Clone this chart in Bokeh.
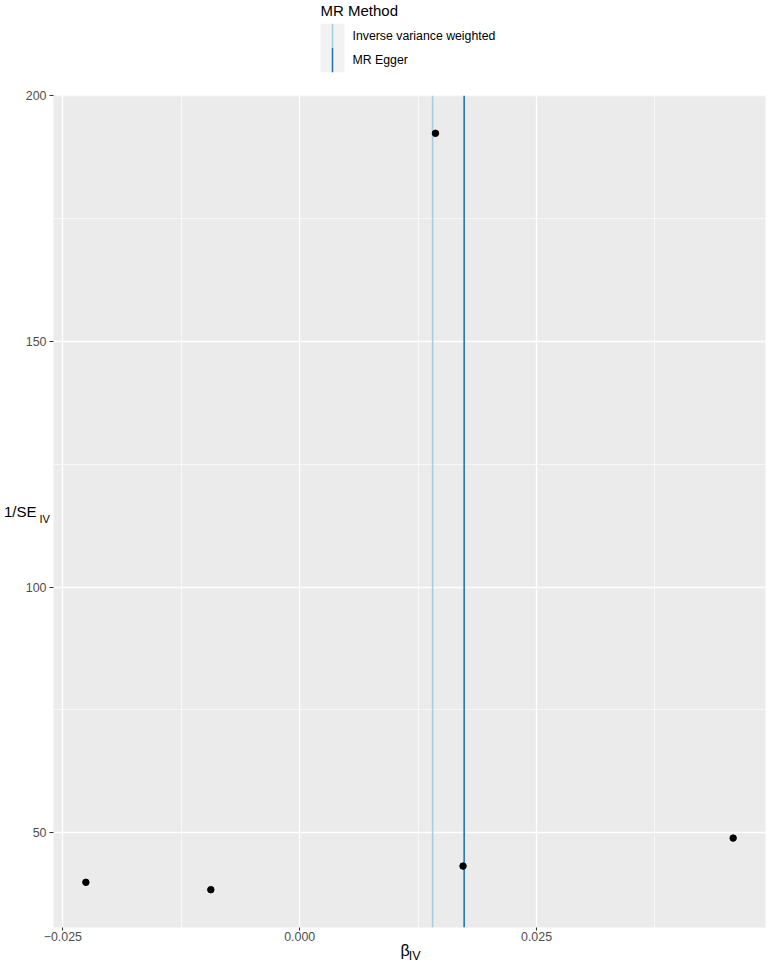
from bokeh.plotting import figure
from bokeh.layouts import column
from bokeh.models import Range1d, FixedTicker, ColumnDataSource, LinearAxis
from bokeh.core.properties import value
from bokeh.embed import file_html
from bokeh.resources import INLINE

# ---- data ----
beta_iv = [-0.02257, -0.00938, 0.01433, 0.01724, 0.04575]
inv_se_iv = [39.9, 38.4, 192.4, 43.2, 48.9]

methods = ["Inverse variance weighted", "MR Egger"]
method_estimates = [0.01403, 0.01736]
method_colors = ["#a6cee3", "#1f78b4"]

x_ticks = [-0.025, 0.0, 0.025]
x_tick_labels = ["\u22120.025", "0.000", "0.025"]
x_minor = [-0.0125, 0.0125, 0.0375]
y_ticks = [50, 100, 150, 200]
y_minor = [75, 125, 175]

FONT = "Liberation Sans"
NBSP = "\u00a0"

# ggplot-like 5% expansion
xmin, xmax = min(beta_iv), max(beta_iv)
ymin, ymax = min(inv_se_iv), max(inv_se_iv)
dx = (xmax - xmin) * 0.05
dy = (ymax - ymin) * 0.05
x_lo, x_hi = xmin - dx, xmax + dx
y_lo, y_hi = ymin - dy, ymax + dy

# ---- layout geometry (page pixels) ----
W = 768
BL, BR = 53, 3                 # frame x: 53 .. 765
BT, BB = 15, 37
LEG_H = 80
MAIN_H = 885                   # frame y: 95 .. 928

# ---- legend (data units == page pixels) ----
leg = figure(width=W, height=LEG_H, x_range=Range1d(BL, W - BR), y_range=Range1d(LEG_H, 0),
             x_axis_location=None, y_axis_location=None, toolbar_location=None,
             output_backend="svg", min_border_left=BL, min_border_right=BR,
             min_border_top=0, min_border_bottom=0)
leg.grid.visible = False
leg.outline_line_color = None
leg.background_fill_color = "white"
leg.border_fill_color = "white"

leg.text(x=[320], y=[10], text=["MR Method"], text_font=value(FONT), text_font_size="15px",
         text_color="black", text_align="left", text_baseline="middle")
key_x = 332
key_top = 23.3
key_h = 24.2
leg.rect(x=[key_x], y=[key_top + key_h], width=24, height=2 * key_h,
         fill_color="#F2F2F2", line_color=None)
for i, (m, c) in enumerate(zip(methods, method_colors)):
    y0 = key_top + i * key_h
    leg.segment(x0=[key_x], x1=[key_x], y0=[y0], y1=[y0 + key_h], line_color=c, line_width=1.6)
    leg.text(x=[352], y=[y0 + key_h / 2], text=[m], text_font=value(FONT), text_font_size="12.3px",
             text_color="black", text_align="left", text_baseline="middle")

# ---- main figure ----
p = figure(width=W, height=MAIN_H, x_range=Range1d(x_lo, x_hi), y_range=Range1d(y_lo, y_hi),
           toolbar_location=None, output_backend="svg",
           min_border_left=BL, min_border_right=BR, min_border_top=BT, min_border_bottom=BB)
p.background_fill_color = "#EBEBEB"
p.border_fill_color = "white"
p.outline_line_color = None

p.xaxis.ticker = FixedTicker(ticks=x_ticks, minor_ticks=x_minor)
p.yaxis.ticker = FixedTicker(ticks=y_ticks, minor_ticks=y_minor)
p.xaxis.major_label_overrides = {t: l for t, l in zip(x_ticks, x_tick_labels)}

for ax in (p.xaxis, p.yaxis):
    ax.axis_line_color = None
    ax.major_tick_line_color = "#333333"
    ax.major_tick_line_width = 1.1
    ax.major_tick_in = 0
    ax.minor_tick_line_color = None
    ax.major_label_text_font = FONT
    ax.major_label_text_font_size = "12.4px"
    ax.major_label_text_color = "#4D4D4D"
    ax.axis_label_text_font = FONT
    ax.axis_label_text_font_style = "normal"
    ax.axis_label_text_color = "black"
p.xaxis.major_tick_out = 3
p.xaxis.major_label_standoff = 0
p.yaxis.major_tick_out = 4
p.yaxis.major_label_standoff = 3


def title_axis(label, size, standoff):
    return LinearAxis(ticker=FixedTicker(ticks=[]), axis_label=label,
                      axis_label_text_font=FONT, axis_label_text_font_size=size,
                      axis_label_text_font_style="normal", axis_label_text_color="black",
                      axis_label_standoff=standoff, axis_line_color=None,
                      major_tick_out=0, major_tick_in=0, minor_tick_out=0, minor_tick_in=0,
                      major_label_standoff=0)


# x title: beta with IV subscript (second, tick-less axis below)
p.xaxis.axis_label = "\u03b2" + NBSP * 2
p.xaxis.axis_label_text_font_size = "16px"
p.xaxis.axis_label_standoff = -2
p.add_layout(title_axis(NBSP * 3 + "IV", "12.5px", -13), "below")

# y title: 1/SE with IV subscript, laid out horizontally (rotated text is not
# drawn rotated by the SVG backend here)
try:
    yax = p.yaxis[0]
    yax.axis_label_orientation = "horizontal"
    yax.axis_label = "\nIV"
    yax.axis_label_text_font_size = "11px"
    yax.axis_label_standoff = -27
    se_axis = title_axis("1/SE", "15px", 0)
    se_axis.axis_label_orientation = "horizontal"
    p.add_layout(se_axis, "left")
except Exception:
    p.yaxis.axis_label = NBSP * 16 + "IV"
    p.yaxis.axis_label_text_font_size = "12px"
    p.yaxis.axis_label_standoff = -1
    p.add_layout(title_axis("1/SE", "16px", -15), "left")

for g in (p.xgrid, p.ygrid):
    g.grid_line_color = "white"
    g.grid_line_width = 1.3
    g.minor_grid_line_color = "white"
    g.minor_grid_line_width = 0.6

for est, c in zip(method_estimates, method_colors):
    p.segment(x0=[est], x1=[est], y0=[y_lo], y1=[y_hi], line_color=c, line_width=1.6)

src = ColumnDataSource(dict(x=beta_iv, y=inv_se_iv))
p.scatter("x", "y", source=src, size=6.5, fill_color="black", line_color="black")

layout = column(leg, p, spacing=0)
open("out.html", "w").write(file_html(layout, INLINE))
